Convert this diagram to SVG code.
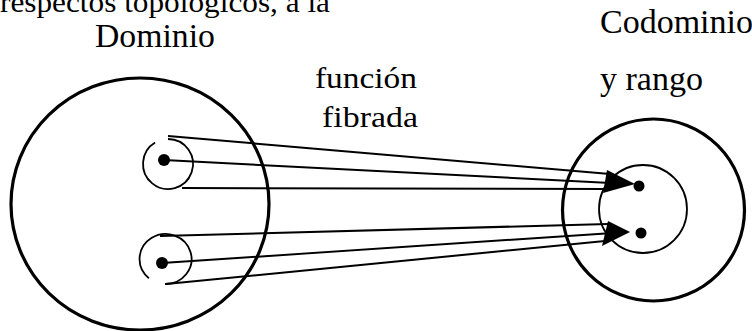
<svg xmlns="http://www.w3.org/2000/svg" width="752" height="331" viewBox="0 0 752 331">
<style>
.t{font-family:"Liberation Serif","Times New Roman",serif;fill:#000}
.big{fill:none;stroke:#000;stroke-width:3.2}
.thin{fill:none;stroke:#000;stroke-width:1.8}
.ln{fill:none;stroke:#000;stroke-width:2}
.dot{fill:#000}
</style>
<rect width="752" height="331" fill="#fff"/>
<text class="t" x="0" y="12" font-size="30" textLength="330" lengthAdjust="spacingAndGlyphs">respectos topológicos, a la</text>
<g id="dominio">
<ellipse class="big" cx="140" cy="204" rx="129" ry="126"/>
<text class="t" x="95" y="47" font-size="34" textLength="120" lengthAdjust="spacingAndGlyphs">Dominio</text>
</g>
<g id="fibra1">
<path class="thin" d="M168 139 A25 25 0 1 1 155.1 142.6"/>
<circle class="dot" cx="164" cy="160" r="6"/>
</g>
<g id="fibra2">
<path class="thin" d="M148.9 278.2 A26 25 0 1 1 165 284"/>
<circle class="dot" cx="162" cy="263" r="6"/>
</g>
<g id="codominio">
<circle class="big" cx="653.5" cy="210" r="91"/>
<text class="t" x="600" y="33" font-size="34" textLength="153" lengthAdjust="spacingAndGlyphs">Codominio</text>
</g>
<g id="rango">
<circle class="thin" cx="643" cy="209" r="44"/>
<circle class="dot" cx="639" cy="186" r="5.5"/>
<circle class="dot" cx="641" cy="233" r="5.5"/>
<text class="t" x="600" y="90" font-size="33" textLength="103" lengthAdjust="spacingAndGlyphs">y rango</text>
</g>
<g id="funcion">
<text class="t" x="315" y="88" font-size="29" textLength="102" lengthAdjust="spacingAndGlyphs">función</text>
<text class="t" x="322" y="127" font-size="29" textLength="96" lengthAdjust="spacingAndGlyphs">fibrada</text>
</g>
<g id="connectors">
<path class="ln" d="M168 136 L610 174"/>
<path class="ln" d="M164 160 L630 184"/>
<path class="ln" d="M182 188 L607 189"/>
<path class="ln" d="M160 236 L608 224"/>
<path class="ln" d="M162 263 L628 232"/>
<path class="ln" d="M166 284 L605 241"/>
<polygon class="dot" points="635,184 607,170 603,193"/>
<polygon class="dot" points="630,232 608,221 602,246"/>
</g>
</svg>
